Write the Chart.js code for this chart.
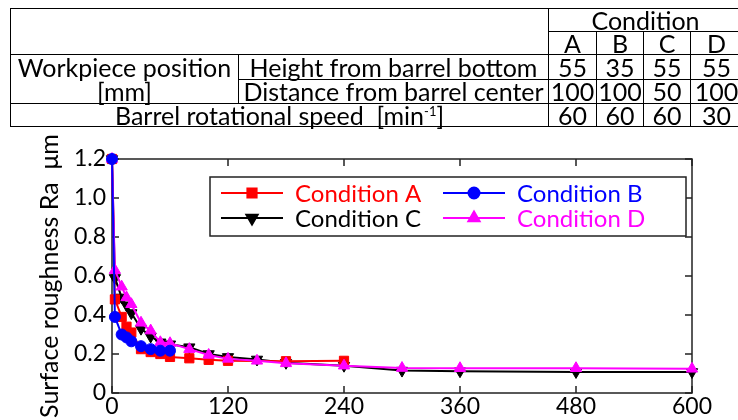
<!DOCTYPE html>
<html>
<head>
<meta charset="utf-8">
<script src="https://cdn.jsdelivr.net/npm/chart.js@4.4.1/dist/chart.umd.min.js"></script>
<style>
html, body { margin: 0; padding: 0; background: #fff; }
body { width: 738px; height: 420px; position: relative; overflow: hidden; font-family: Lato, sans-serif; }
#wrap { position: absolute; left: 0; top: 0; width: 738px; height: 420px; }
#cond { position: absolute; left: 10px; top: 8px; width: 732px; border-collapse: collapse; table-layout: fixed; font-size: 25px; color: #000; z-index: 2; }
#cond td { border: 1.6px solid #000; padding: 0; text-align: center; height: 22px; line-height: 22px; white-space: nowrap; }
#cond sup { font-size: 13px; line-height: 0; vertical-align: 9px; }
</style>
</head>
<body>
<table id="cond">
  <colgroup>
    <col style="width:228px"><col style="width:310px"><col style="width:48px"><col style="width:47px"><col style="width:47px"><col style="width:52px">
  </colgroup>
  <tbody id="condBody"></tbody>
</table>
<div id="wrap"><canvas id="roughChart" width="738" height="420"></canvas></div>
<script>
// Table values
const condNames = ["A", "B", "C", "D"];
const heightFromBottom = [55, 35, 55, 55];
const distFromCenter = [100, 100, 50, 100];
const rotSpeed = [60, 60, 60, 30];

// Chart values (time in min, Ra in um)
const timeA = [0, 3, 10, 15, 20, 30, 40, 50, 60, 80, 100, 120, 180, 240];
const raA = [1.2, 0.48, 0.39, 0.34, 0.31, 0.225, 0.21, 0.2, 0.185, 0.178, 0.17, 0.165, 0.163, 0.165];
const timeB = [0, 3, 10, 15, 20, 30, 40, 50, 60];
const raB = [1.2, 0.39, 0.30, 0.285, 0.265, 0.24, 0.225, 0.217, 0.217];
const timeCD = [0, 3, 10, 15, 20, 30, 40, 50, 60, 80, 100, 120, 150, 180, 240, 300, 360, 480, 600];
const raC = [1.2, 0.59, 0.49, 0.45, 0.41, 0.33, 0.29, 0.26, 0.25, 0.235, 0.2, 0.185, 0.172, 0.155, 0.14, 0.115, 0.112, 0.108, 0.108];
const raD = [1.2, 0.63, 0.545, 0.49, 0.455, 0.36, 0.32, 0.26, 0.255, 0.225, 0.195, 0.175, 0.165, 0.152, 0.14, 0.128, 0.127, 0.127, 0.124];

const xTicks = [0, 120, 240, 360, 480, 600];
const yTicks = [0, 0.2, 0.4, 0.6, 0.8, 1.0, 1.2];

// build the condition table
function cells(arr) {
    return arr.map(v => "<td>" + v + "</td>").join("");
}
document.getElementById("condBody").innerHTML =
    '<tr><td colspan="2" rowspan="2"></td><td colspan="4">Condition</td></tr>' +
    "<tr>" + cells(condNames) + "</tr>" +
    '<tr><td rowspan="2" style="line-height:24px">Workpiece position<br>[mm]</td><td>Height from barrel bottom</td>' + cells(heightFromBottom) + "</tr>" +
    "<tr><td>Distance from barrel center</td>" + cells(distFromCenter) + "</tr>" +
    '<tr><td colspan="2">Barrel rotational speed&nbsp;&nbsp;[min<sup>-1</sup>]</td>' + cells(rotSpeed) + "</tr>";

function toPoints(xs, ys) {
    return xs.map((x, i) => ({ x: x, y: ys[i] }));
}

const fontMain = { family: "Lato, sans-serif", size: 24 };
const fontTick = { family: "Lato, sans-serif", size: 23 };
const fontTitle = { family: "Lato, sans-serif", size: 25 };

const series = [
    { label: "Condition A", data: toPoints(timeA, raA), color: "#ff0000", text: "#ff0000", style: "rect", radius: 6.5, rot: 0, order: 2 },
    { label: "Condition B", data: toPoints(timeB, raB), color: "#0000ff", text: "#0000ff", style: "circle", radius: 5.5, rot: 0, order: 0 },
    { label: "Condition C", data: toPoints(timeCD, raC), color: "#000000", text: "#000000", style: "triangle", radius: 6.5, rot: 180, order: 3 },
    { label: "Condition D", data: toPoints(timeCD, raD), color: "#ff00ff", text: "#ff00ff", style: "triangle", radius: 6.5, rot: 0, order: 1 }
];

// frame with inward ticks on all four sides
const framePlugin = {
    id: "frame",
    beforeDatasetsDraw(chart) {
        const { ctx, chartArea: a, scales } = chart;
        ctx.save();
        ctx.strokeStyle = "#222";
        ctx.lineWidth = 1.5;
        ctx.strokeRect(a.left, a.top, a.right - a.left, a.bottom - a.top);
        const len = 7;
        ctx.beginPath();
        xTicks.forEach(v => {
            const px = scales.x.getPixelForValue(v);
            ctx.moveTo(px, a.bottom); ctx.lineTo(px, a.bottom - len);
            ctx.moveTo(px, a.top); ctx.lineTo(px, a.top + len);
        });
        yTicks.forEach(v => {
            const py = scales.y.getPixelForValue(v);
            ctx.moveTo(a.left, py); ctx.lineTo(a.left + len, py);
            ctx.moveTo(a.right, py); ctx.lineTo(a.right - len, py);
        });
        ctx.stroke();
        ctx.restore();
    }
};

// boxed legend inside plot, two columns
const legendPlugin = {
    id: "boxLegend",
    afterDatasetsDraw(chart) {
        const { ctx, chartArea: a } = chart;
        const bx = a.left + 98, by = a.top + 18, bw = 476, bh = 59;
        ctx.save();
        ctx.fillStyle = "#fff";
        ctx.fillRect(bx, by, bw, bh);
        ctx.strokeStyle = "#222";
        ctx.lineWidth = 1.5;
        ctx.strokeRect(bx, by, bw, bh);
        ctx.font = fontMain.size + "px " + fontMain.family;
        ctx.textBaseline = "middle";
        series.forEach((s, i) => {
            const col = i % 2, row = Math.floor(i / 2);
            const x0 = bx + 11 + col * 222;
            const y0 = by + 16 + row * 25;
            ctx.strokeStyle = s.color;
            ctx.lineWidth = 2;
            ctx.beginPath();
            ctx.moveTo(x0, y0); ctx.lineTo(x0 + 62, y0);
            ctx.stroke();
            ctx.fillStyle = s.color;
            Chart.helpers.drawPoint(ctx, { pointStyle: s.style, radius: s.radius, rotation: s.rot, borderWidth: 1 }, x0 + 31, y0);
            ctx.fillStyle = s.text;
            ctx.fillText(s.label, x0 + 74, y0 + 1);
        });
        ctx.restore();
    }
};

new Chart(document.getElementById("roughChart"), {
    type: "line",
    data: {
        datasets: series.map(s => ({
            label: s.label,
            data: s.data,
            borderColor: s.color,
            backgroundColor: s.color,
            borderWidth: 2,
            pointStyle: s.style,
            pointRadius: s.radius,
            pointRotation: s.rot,
            pointBorderWidth: 1,
            order: s.order,
            tension: 0,
            clip: false
        }))
    },
    options: {
        responsive: false,
        animation: false,
        layout: { padding: { top: 159, right: 46, bottom: 0, left: 0 } },
        plugins: { legend: { display: false }, tooltip: { enabled: false } },
        scales: {
            x: {
                type: "linear", min: 0, max: 600,
                afterBuildTicks: s => { s.ticks = xTicks.map(v => ({ value: v })); },
                ticks: { font: fontTick, color: "#000", padding: 0, maxRotation: 0 },
                grid: { display: false, drawTicks: false },
                border: { display: false },
                afterFit: s => { s.height = 27; }
            },
            y: {
                type: "linear", min: 0, max: 1.2,
                afterBuildTicks: s => { s.ticks = yTicks.map(v => ({ value: v })); },
                ticks: {
                    font: fontTick, color: "#000", padding: 6,
                    callback: v => (v === 0 ? "0" : v.toFixed(1))
                },
                grid: { display: false, drawTicks: false },
                border: { display: false },
                title: { display: true, text: "Surface roughness Ra  \u03bcm", font: fontTitle, color: "#000", padding: { top: 35, bottom: 0 } },
                afterFit: s => { s.width = 112; }
            }
        }
    },
    plugins: [framePlugin, legendPlugin]
});
</script>
</body>
</html>
